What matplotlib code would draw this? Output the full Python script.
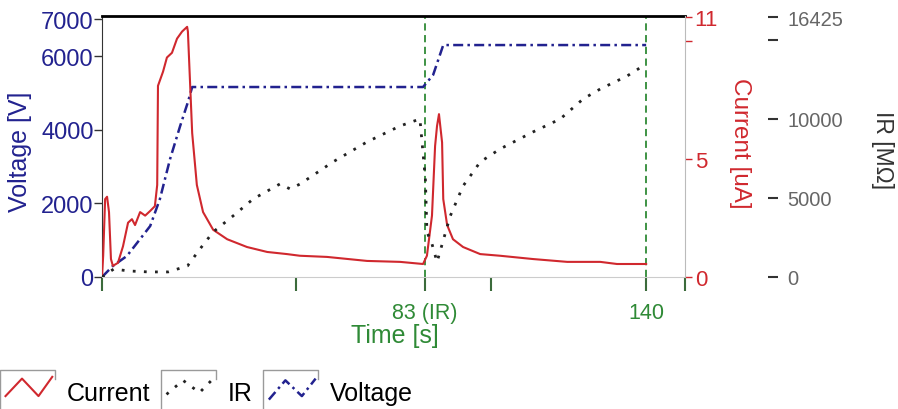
import numpy as np
import matplotlib
matplotlib.use("Agg")
import matplotlib.pyplot as plt
from matplotlib.lines import Line2D
from matplotlib.legend_handler import HandlerBase

plt.rcParams["font.family"] = ["Liberation Sans", "DejaVu Sans"]

# --- data ---
t_current = [0.0, 0.3, 0.8, 1.3, 1.8, 2.3, 2.8, 4.1, 5.4, 6.7, 7.7, 8.5, 9.8, 11.1,
             12.4, 13.6, 14.2, 14.4, 15.7, 16.7, 18.0, 19.3, 20.6, 21.9, 22.1, 23.2,
             24.4, 26.0, 28.6, 32.2, 37.3, 42.5, 47.6, 50.9, 57.9, 68.2, 76.7, 82.6,
             83.6, 84.9, 85.7, 86.2, 86.7, 87.5, 87.8, 88.8, 90.3, 92.9, 97.3, 102.4,
             110.9, 119.7, 128.2, 132.5, 140.0]
current = [0.0, 0.9, 3.3, 3.4, 2.75, 0.76, 0.47, 0.6, 1.3, 2.3, 2.45, 2.2, 2.75, 2.6,
           2.8, 3.0, 3.9, 8.1, 8.7, 9.3, 9.5, 10.1, 10.4, 10.6, 10.4, 6.1,
           3.9, 2.75, 2.0, 1.6, 1.27, 1.06, 0.97, 0.9, 0.85, 0.68, 0.64, 0.55,
           0.9, 2.6, 5.55, 6.4, 6.9, 5.7, 3.3, 2.2, 1.6, 1.27, 0.97, 0.9,
           0.76, 0.64, 0.64, 0.55, 0.55]

t_voltage = [0, 2.8, 6.4, 9.8, 12.4, 14.9, 17.5, 20.1, 22.1, 23.2, 82.6, 85.2, 87.8, 140]
voltage = [0, 300, 570, 1030, 1385, 2120, 3200, 4100, 4750, 5160, 5160, 5490, 6300, 6300]

t_ir = [0, 3, 7, 12, 17, 22, 25.2, 28.6, 33.7, 38.9, 45.8, 48.4, 51, 59.4, 68.2, 76.7,
        81.8, 83.2, 83.6, 84.9, 86.2, 89.6, 92.9, 95.5, 97.3, 102.4, 110.9, 117.9,
        123.8, 128.2, 135.1, 139.2]
ir = [0, 500, 380, 320, 320, 700, 1770, 2850, 3860, 4940, 5890, 5570, 5890, 7280, 8550,
      9560, 10000, 6200, 2850, 2090, 950, 3860, 5760, 6650, 7280, 8100, 9180, 10000,
      11270, 11900, 12720, 13360]

time_ticks = [0, 50, 83, 100, 140, 150]
time_labels = ["", "", "83 (IR)", "", "140", ""]
marker_times = [83, 140]
voltage_ticks = [0, 2000, 4000, 6000, 7000]
current_ticks = [0, 5, 10, 11]
current_labels = ["0", "5", "", "11"]
ir_ticks = [0, 5000, 10000, 15000, 16425]
ir_labels = ["0", "5000", "10000", "", "16425"]

navy = "#22228f"
red = "#d0282e"
green = "#2f8a36"
grey = "#666666"


class BoxZigzag(HandlerBase):
    """legend handle: zigzag of the line style inside a half open box"""

    def __init__(self, ys, **kw):
        super().__init__(**kw)
        self.ys = ys

    def create_artists(self, legend, orig_handle, xdescent, ydescent,
                       width, height, fontsize, trans):
        x0, y0 = -xdescent, -ydescent
        zig = Line2D(x0 + width * np.array([0.1, 0.4, 0.7, 0.95]),
                     y0 + height * np.array(self.ys))
        self.update_prop(zig, orig_handle, legend)
        zig.set_transform(trans)
        box = Line2D([x0, x0, x0 + width, x0 + width],
                     [y0 - 2 * height, y0 + 1.7 * height, y0 + 1.7 * height, y0 + 1.2 * height],
                     color="#9a9a9a", lw=1.0, transform=trans)
        return [box, zig]


fig = plt.figure(figsize=(8.98, 4.10), dpi=100)
ax = fig.add_axes([0.1136, 0.3220, 0.6492, 0.6366])
ax_cur = ax.twinx()
ax_ir = ax.twinx()

# voltage (left axis)
l_v, = ax.plot(t_voltage, voltage, color=navy, lw=1.8, dashes=(4, 1.7, 1, 1.7), zorder=3)
for tm in marker_times:
    ax.axvline(tm, color=green, lw=1.3, dashes=(4, 2.5), zorder=1)
ax.set_xlim(0, 150)
ax.set_ylim(0, 7090)
ax.set_xticks(time_ticks)
ax.set_xticklabels(time_labels)
ax.set_yticks(voltage_ticks)
ax.tick_params(axis="x", colors="#3b6b3b", labelcolor=green, length=10, width=1.5,
               pad=8, labelsize=15.5)
ax.tick_params(axis="y", colors="#333333", labelcolor=navy, length=6, width=1,
               pad=0, labelsize=17)
ax.set_xlabel("Time [s]", color=green, fontsize=18, va="center")
ax.xaxis.set_label_coords(0.503, -0.222)
ax.set_ylabel("Voltage [V]", color=navy, fontsize=18, va="center")
ax.yaxis.set_label_coords(-0.141, 0.483)
ax.spines["top"].set_color("black")
ax.spines["top"].set_linewidth(2)
ax.spines["left"].set_color("#333333")
ax.spines["bottom"].set_color("#cccccc")
ax.spines["right"].set_visible(False)

# current (first right axis)
l_c, = ax_cur.plot(t_current, current, color=red, lw=1.5, zorder=3)
ax_cur.set_ylim(0, 11.06)
ax_cur.set_yticks(current_ticks)
ax_cur.set_yticklabels(current_labels)
ax_cur.tick_params(axis="y", colors=red, labelcolor=red, length=5, width=1,
                   pad=2, labelsize=16)
ax_cur.set_ylabel("Current [uA]", color=red, fontsize=17.5, rotation=-90, va="center")
ax_cur.yaxis.set_label_coords(1.094, 0.517)
for s in ["top", "left", "bottom"]:
    ax_cur.spines[s].set_visible(False)
ax_cur.spines["right"].set_color("#bbbbbb")

# IR (second right axis, no spine)
l_ir, = ax_ir.plot(t_ir, ir, color="#222222", lw=2, linestyle=(0, (1, 3)), zorder=3)
ax_ir.set_ylim(0, 16520)
ax_ir.spines["right"].set_position(("axes", 1.142))
for s in ["top", "left", "bottom", "right"]:
    ax_ir.spines[s].set_visible(False)
ax_ir.set_yticks(ir_ticks)
ax_ir.set_yticklabels(ir_labels)
ax_ir.tick_params(axis="y", colors="#333333", labelcolor=grey, length=7, width=1.5,
                  pad=7, labelsize=14.5)
ax_ir.set_ylabel("IR [MΩ]", color="#333333", fontsize=16.5, rotation=-90, va="center")
ax_ir.yaxis.set_label_coords(1.338, 0.49)

fig.legend([l_c, l_ir, l_v], ["Current", "IR", "Voltage"],
           handler_map={l_c: BoxZigzag([0.2, 1.2, 0.2, 1.3]),
                        l_ir: BoxZigzag([0.3, 1.1, 0.4, 1.2]),
                        l_v: BoxZigzag([0.0, 1.1, 0.2, 1.2])},
           loc="center left", bbox_to_anchor=(0.0, 0.04), ncol=3, frameon=False,
           fontsize=18, handlelength=2.2, handletextpad=0.45, columnspacing=0.45,
           borderpad=0, borderaxespad=0)

fig.savefig("out.png", dpi=100)
